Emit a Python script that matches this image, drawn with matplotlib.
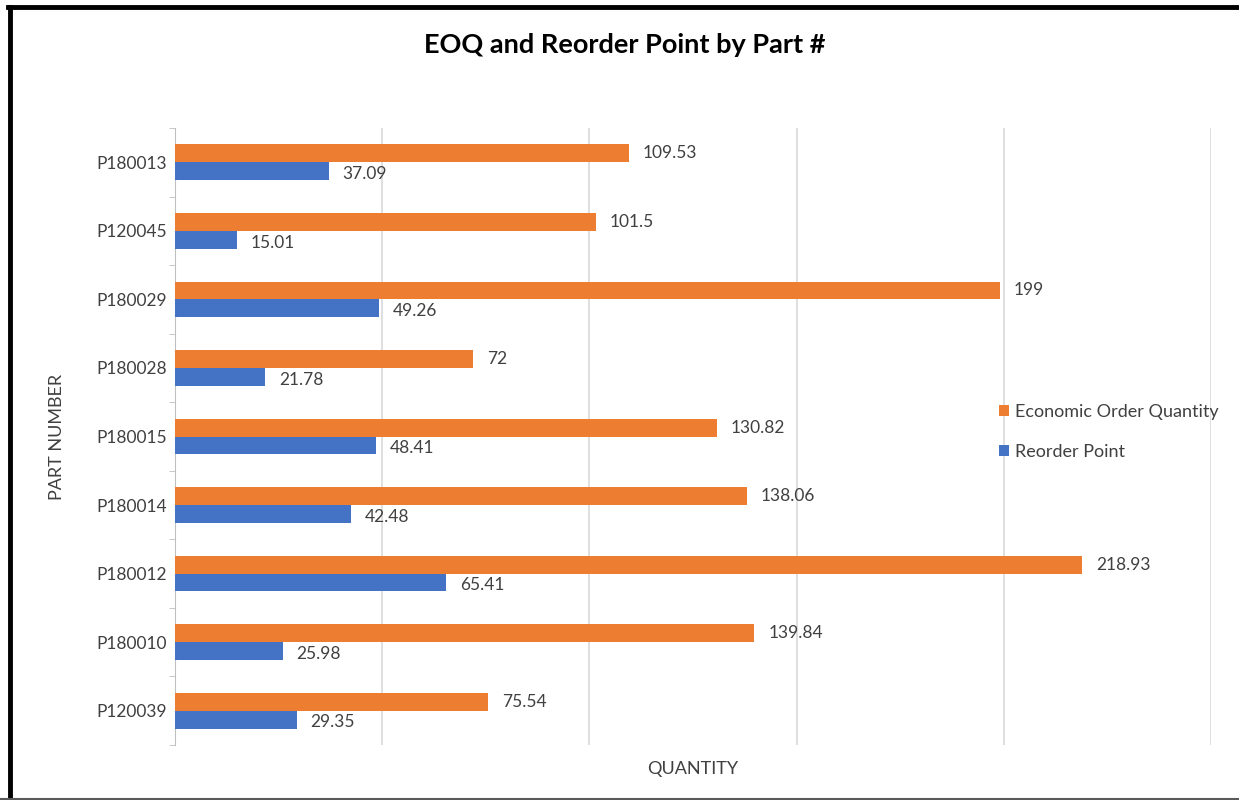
import numpy as np
import matplotlib.pyplot as plt
from matplotlib.lines import Line2D

parts = ["P180013", "P120045", "P180029", "P180028", "P180015",
         "P180014", "P180012", "P180010", "P120039"]
eoq = [109.53, 101.5, 199, 72, 130.82, 138.06, 218.93, 139.84, 75.54]
rop = [37.09, 15.01, 49.26, 21.78, 48.41, 42.48, 65.41, 25.98, 29.35]
eoq_lbl = ["109.53", "101.5", "199", "72", "130.82", "138.06", "218.93", "139.84", "75.54"]
rop_lbl = ["37.09", "15.01", "49.26", "21.78", "48.41", "42.48", "65.41", "25.98", "29.35"]

orange = "#ED7D31"
blue = "#4472C4"
txt = "#404040"

plt.rcParams['font.family'] = ['Lato', 'DejaVu Sans']

fig = plt.figure(figsize=(12.39, 8), dpi=100)
ax = fig.add_axes([175/1239, 1-745/800, (1211-175)/1239, (745-128)/800])

# frame of the screenshot: thick black left/top, thin grey bottom
fig.add_artist(Line2D([10/1239, 10/1239], [0, 1-7/800], transform=fig.transFigure,
                      color="black", linewidth=3.5))
fig.add_artist(Line2D([8/1239, 1], [1-7/800, 1-7/800], transform=fig.transFigure,
                      color="black", linewidth=3.5))
fig.add_artist(Line2D([0, 1], [1.5/800, 1.5/800], transform=fig.transFigure,
                      color="#595959", linewidth=1.5))

n = len(parts)
y = np.arange(n)[::-1]
h = 0.26
b1 = ax.barh(y + h/2, eoq, height=h, color=orange, label="Economic Order Quantity", zorder=3)
b2 = ax.barh(y - h/2, rop, height=h, color=blue, label="Reorder Point", zorder=3)

for rect, s in zip(b1, eoq_lbl):
    ax.annotate(s, (rect.get_width(), rect.get_y() + rect.get_height()/2),
                xytext=(10, 0), textcoords="offset points", va="center",
                fontsize=12.5, color=txt)
for rect, s in zip(b2, rop_lbl):
    ax.annotate(s, (rect.get_width(), rect.get_y() + rect.get_height()/2),
                xytext=(10, -2), textcoords="offset points", va="center",
                fontsize=12.5, color=txt)

ax.set_xlim(0, 250)
ax.set_ylim(-0.5, n - 0.5)
ax.set_xticks([0, 50, 100, 150, 200, 250])
ax.set_xticklabels([])
ax.tick_params(axis="x", length=0)
ax.grid(axis="x", color="#d9d9d9", linewidth=1.2, zorder=0)

ax.set_yticks(y)
ax.set_yticklabels(parts, fontsize=12.5, color=txt)
ax.set_yticks(np.arange(-0.5, n, 1), minor=True)
ax.tick_params(axis="y", which="major", length=0, pad=6)
ax.tick_params(axis="y", which="minor", length=4, color="#bfbfbf")

for s in ["top", "right", "bottom"]:
    ax.spines[s].set_visible(False)
ax.spines["left"].set_color("#bfbfbf")

ax.set_xlabel("QUANTITY", fontsize=13, color=txt, labelpad=8)
ax.set_ylabel("PART NUMBER", fontsize=13, color=txt, labelpad=22)

fig.text(625/1239, 1-45/800, "EOQ and Reorder Point by Part #", ha="center", va="center",
         fontsize=19.5, fontweight="bold", color="black")

leg = ax.legend(loc="center left", bbox_to_anchor=(983/1239, 1-432/800),
                bbox_transform=fig.transFigure, frameon=False, fontsize=13,
                handlelength=0.55, handleheight=0.55, handletextpad=0.3, labelspacing=1.3)
for t in leg.get_texts():
    t.set_color(txt)

fig.savefig("out.png", dpi=100)
